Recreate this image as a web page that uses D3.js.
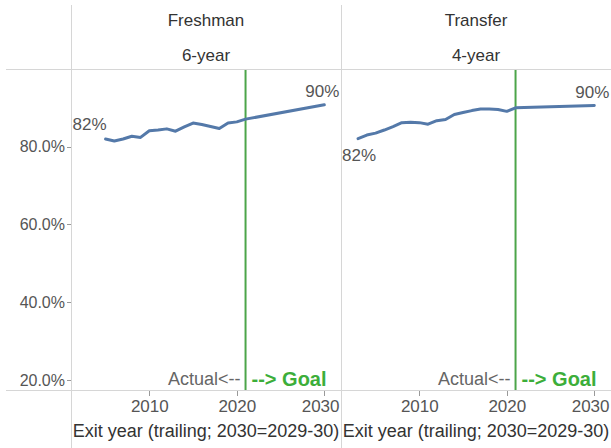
<!DOCTYPE html>
<html>
  <head>
    <style>
      body { margin: 0; background: #fff; }
      text { font-family: "Liberation Sans", Arial, sans-serif; }
      .rule { stroke: #d6d6d6; stroke-width: 1; shape-rendering: crispEdges; }
      .axis path { display: none; }
      .axis line { stroke: #999; shape-rendering: crispEdges; }
      .axis text { fill: #555; font-size: 17px; font-family: "Liberation Sans", Arial, sans-serif; }
      .rate { fill: none; stroke: #5479a9; stroke-width: 3; stroke-linejoin: round; stroke-linecap: round; }
    </style>
    <script src="https://d3js.org/d3.v7.min.js"></script>
  </head>
  <body>
    <svg id="chart" width="611" height="448"></svg>

    <script>
      // data
      var panelNames = ["Freshman", "Transfer"];
      var panelSubs = ["6-year", "4-year"];

      var freshmanYears = [2005, 2006, 2007, 2008, 2009, 2010, 2011, 2012, 2013, 2014, 2015, 2016, 2017, 2018, 2019, 2020, 2021, 2030];
      var freshmanRate = [0.820, 0.815, 0.820, 0.827, 0.824, 0.841, 0.843, 0.846, 0.840, 0.851, 0.861, 0.857, 0.852, 0.847, 0.861, 0.864, 0.871, 0.908];

      var transferYears = [2003, 2004, 2005, 2006, 2007, 2008, 2009, 2010, 2011, 2012, 2013, 2014, 2015, 2016, 2017, 2018, 2019, 2020, 2021, 2030];
      var transferRate = [0.821, 0.830, 0.835, 0.843, 0.852, 0.862, 0.863, 0.862, 0.858, 0.867, 0.870, 0.883, 0.888, 0.893, 0.897, 0.897, 0.896, 0.891, 0.900, 0.906];

      var startLabels = ["82%", "82%"];
      var endLabels = ["90%", "90%"];

      var xTicks = [2010, 2020, 2030];
      var yTicks = [0.2, 0.4, 0.6, 0.8];
      var goalYear = 2021;
      var xTitle = "Exit year (trailing; 2030=2029-30)";

      var svg = d3.select("#chart");
      var padLeft = 71, plotTop = 69, plotBottom = 390, paneW = 270;

      var x = d3.scaleLinear().domain([2001.05, 2031.91]).range([0, paneW]);
      var y = d3.scaleLinear().domain([0.17425, 1.0]).range([plotBottom, plotTop]);
      var fmtY = d3.format(".1%");

      // grid rules
      svg.append("line").attr("class", "rule").attr("x1", 6).attr("x2", 611).attr("y1", plotTop + 0.5).attr("y2", plotTop + 0.5);
      svg.append("line").attr("class", "rule").attr("x1", 6).attr("x2", 611).attr("y1", plotBottom + 0.5).attr("y2", plotBottom + 0.5);
      [padLeft, padLeft + paneW].forEach(function(px) {
        svg.append("line").attr("class", "rule").attr("x1", px + 0.5).attr("x2", px + 0.5).attr("y1", 5).attr("y2", 448);
      });

      // y axis
      var yAxis = svg.append("g").attr("class", "axis")
        .attr("transform", "translate(" + padLeft + ",0)")
        .call(d3.axisLeft(y).tickValues(yTicks).tickFormat(fmtY).tickSize(4).tickPadding(2));
      yAxis.selectAll("line").attr("stroke", "#e6e6e6");
      yAxis.selectAll("text").style("font-size", "16px");

      var series = [
        { years: freshmanYears, rate: freshmanRate },
        { years: transferYears, rate: transferRate }
      ];

      var line = d3.line()
        .x(function(d) { return x(d[0]); })
        .y(function(d) { return y(d[1]); });

      series.forEach(function(s, i) {
        var g = svg.append("g").attr("transform", "translate(" + (padLeft + i * paneW) + ",0)");
        var cx = paneW / 2;

        g.append("text").attr("x", cx).attr("y", 26).attr("text-anchor", "middle")
          .attr("font-size", 17).attr("fill", "#333").text(panelNames[i]);
        g.append("text").attr("x", cx).attr("y", 61).attr("text-anchor", "middle")
          .attr("font-size", 17).attr("fill", "#333").text(panelSubs[i]);

        // x axis
        var xa = g.append("g").attr("class", "axis")
          .attr("transform", "translate(0," + (plotBottom + 1) + ")")
          .call(d3.axisBottom(x).tickValues(xTicks).tickFormat(d3.format("d")).tickSize(5).tickPadding(4));
        // last label kept inside the pane, like the original
        xa.selectAll(".tick").filter(function(d) { return d === 2030; }).select("text")
          .attr("text-anchor", "end").attr("x", paneW - 2 - x(2030));
        g.append("text").attr("x", cx).attr("y", 437).attr("text-anchor", "middle")
          .attr("font-size", 18).attr("fill", "#333").text(xTitle);

        // goal divider
        var gx = x(goalYear);
        g.append("line").attr("x1", gx).attr("x2", gx).attr("y1", plotTop + 1).attr("y2", plotBottom)
          .attr("stroke", "#4ca54a").attr("stroke-width", 2);
        g.append("text").attr("x", gx - 5).attr("y", 385).attr("text-anchor", "end")
          .attr("font-size", 18).attr("fill", "#666").text("Actual<--");
        g.append("text").attr("x", gx + 6).attr("y", 386)
          .attr("font-size", 20).attr("font-weight", "bold").attr("fill", "#3cae3a").text("--> Goal");

        var pts = s.years.map(function(yr, k) { return [yr, s.rate[k]]; });
        g.append("path").datum(pts).attr("class", "rate").attr("d", line);

        var first = pts[0], last = pts[pts.length - 1];
        if (i === 0) {
          g.append("text").attr("x", x(first[0]) + 1).attr("y", y(first[1]) - 9).attr("text-anchor", "end")
            .attr("font-size", 17).attr("fill", "#555").text(startLabels[i]);
        } else {
          g.append("text").attr("x", x(first[0]) - 16).attr("y", y(first[1]) + 22)
            .attr("font-size", 17).attr("fill", "#555").text(startLabels[i]);
        }
        g.append("text").attr("x", x(last[0]) + 15).attr("y", y(last[1]) - 8).attr("text-anchor", "end")
          .attr("font-size", 17).attr("fill", "#555").text(endLabels[i]);
      });
    </script>
  </body>
</html>
